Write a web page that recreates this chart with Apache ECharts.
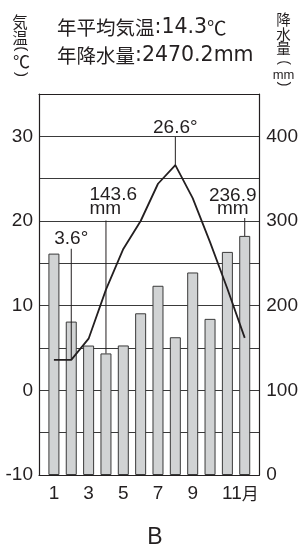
<!DOCTYPE html>
<html>
<head>
<meta charset="utf-8">
<title>B</title>
<script src="https://cdn.jsdelivr.net/npm/echarts@6/dist/echarts.min.js"></script>
<style>
    html, body { margin: 0; padding: 0; background: #fff; }
    #chart { width: 301px; height: 549px; }
</style>
</head>
<body>
<div id="chart"></div>
<script>
    // 月
    const months = [1, 2, 3, 4, 5, 6, 7, 8, 9, 10, 11, 12];
    const monthLabels = [1, 3, 5, 7, 9, 11];
    // 気温(℃)
    const temperature = [3.6, 3.6, 6.1, 11.9, 16.7, 20.0, 24.4, 26.6, 22.7, 17.5, 12.0, 6.2];
    // 降水量(mm)
    const precipitation = [261.5, 181.2, 152.9, 143.6, 153.0, 191.0, 223.5, 162.7, 239.2, 184.4, 263.5, 282.4];
    const tempLabels = [-10, 0, 10, 20, 30];
    const rainLabels = [0, 100, 200, 300, 400];

    const ink = '#231f20';
    const numFont = '"Liberation Sans Narrow", "Liberation Sans", sans-serif';
    const cjkFont = '"Noto Sans CJK JP", sans-serif';

    const chart = echarts.init(document.getElementById('chart'));

    // 引き出し線: 細い rect の下端を点に合わせる
    function leader(len) {
        return {
            symbol: 'rect',
            symbolSize: [1, len],
            symbolOffset: [0, '-50%'],
            itemStyle: { color: ink }
        };
    }

    // 縦書きの軸名 (括弧は回転させて描く)
    function vtext(text, x, y, size, family, rotate) {
        return {
            type: 'text',
            x: x,
            y: y,
            rotation: rotate ? -Math.PI / 2 : 0,
            style: {
                text: text,
                fontSize: size,
                fontFamily: family || cjkFont,
                fill: ink,
                align: 'center',
                verticalAlign: 'middle'
            }
        };
    }

    const noteLabel = {
        show: true,
        position: 'top',
        distance: 3,
        fontFamily: numFont,
        fontSize: 19,
        lineHeight: 13.5,
        color: ink
    };

    chart.setOption({
        animation: false,
        title: [
            {
                left: 57, top: 13, padding: 0,
                text: '{c|年平均気温}{n|:14.3}{c|℃}\n{c|年降水量}{n|:2470.2mm}',
                textStyle: {
                    fontWeight: 'normal',
                    rich: {
                        c: { fontFamily: cjkFont, fontSize: 19.5, fontWeight: 'normal', lineHeight: 28.5, color: ink },
                        n: { fontFamily: '"DejaVu Sans", sans-serif', fontSize: 20.5, fontWeight: 'normal', lineHeight: 28.5, color: ink }
                    }
                }
            },
            {
                left: 155, top: 526, padding: 0, textAlign: 'center',
                text: 'B',
                textStyle: { fontFamily: '"Liberation Sans", sans-serif', fontSize: 23, fontWeight: 'normal', color: ink }
            }
        ],
        graphic: [
            vtext('気', 20, 22.5, 15.5),
            vtext('温', 20, 37.8, 15.5),
            vtext('(', 21, 48.8, 15, numFont, true),
            vtext('℃', 21.5, 62, 17),
            vtext(')', 21, 74.5, 15, numFont, true),
            vtext('降', 283.5, 19.5, 14.5),
            vtext('水', 283.5, 34, 14.5),
            vtext('量', 283.5, 48.5, 14.5),
            vtext('(', 283.5, 62.5, 14, numFont, true),
            vtext('mm', 283.5, 75, 13, numFont),
            vtext(')', 283.5, 84, 14, numFont, true)
        ],
        grid: { left: 39, right: 33, top: 94, bottom: 74 },
        xAxis: [
            {
                type: 'value',
                min: 0.14,
                max: 12.84,
                axisLine: { show: true, onZero: false, lineStyle: { color: ink, width: 1.2 } },
                axisTick: { show: false },
                splitLine: { show: false },
                axisLabel: {
                    customValues: monthLabels,
                    margin: 9,
                    fontFamily: numFont,
                    fontSize: 19,
                    color: ink,
                    formatter: function (v) {
                        return v === 11 ? '{n|11}{m|月}' : String(v);
                    },
                    rich: {
                        n: { fontFamily: numFont, fontSize: 19, color: ink, padding: [0, 0, 0, 26] },
                        m: { fontFamily: cjkFont, fontSize: 17, color: ink }
                    }
                }
            },
            {
                type: 'value',
                position: 'top',
                min: 0.14,
                max: 12.84,
                axisLine: { show: true, onZero: false, lineStyle: { color: ink, width: 1.2 } },
                axisTick: { show: false },
                axisLabel: { show: false },
                splitLine: { show: false }
            }
        ],
        yAxis: [
            {
                type: 'value',
                min: -10,
                max: 35,
                interval: 5,
                axisLine: { show: true, lineStyle: { color: ink, width: 1.2 } },
                axisTick: { show: false },
                splitLine: { show: true, lineStyle: { color: '#3a3a3a', width: 1 } },
                axisLabel: {
                    customValues: tempLabels,
                    margin: 6,
                    fontFamily: numFont,
                    fontSize: 19,
                    color: ink
                }
            },
            {
                type: 'value',
                position: 'right',
                min: 0,
                max: 450,
                interval: 50,
                axisLine: { show: true, lineStyle: { color: ink, width: 1.2 } },
                axisTick: { show: false },
                splitLine: { show: false },
                axisLabel: {
                    customValues: rainLabels,
                    margin: 7,
                    fontFamily: numFont,
                    fontSize: 19,
                    color: ink
                }
            }
        ],
        series: [
            {
                name: '降水量',
                type: 'bar',
                yAxisIndex: 1,
                barWidth: 11,
                data: months.map((m, i) => [m, precipitation[i]]),
                itemStyle: { color: '#d1d3d4', borderColor: '#3a3a3a', borderWidth: 1 },
                markPoint: {
                    data: [
                        Object.assign({
                            coord: [4, precipitation[3]],
                            label: Object.assign({}, noteLabel, {
                                formatter: '143.6\nmm', align: 'left', offset: [-16.5, 0], distance: 5
                            })
                        }, leader(133)),
                        Object.assign({
                            coord: [12, precipitation[11]],
                            label: Object.assign({}, noteLabel, {
                                formatter: '236.9\nmm', offset: [-12, 0], distance: 2
                            })
                        }, leader(18))
                    ]
                }
            },
            {
                name: '気温',
                type: 'line',
                yAxisIndex: 0,
                z: 3,
                symbol: 'none',
                data: months.map((m, i) => [m, temperature[i]]),
                lineStyle: { color: ink, width: 1.8 },
                markPoint: {
                    data: [
                        Object.assign({
                            type: 'max',
                            valueDim: 'y',
                            label: Object.assign({}, noteLabel, { formatter: '26.6°' })
                        }, leader(28)),
                        Object.assign({
                            coord: [2, temperature[1]],
                            label: Object.assign({}, noteLabel, { formatter: '3.6°' })
                        }, leader(111))
                    ]
                }
            }
        ]
    });
</script>
</body>
</html>
